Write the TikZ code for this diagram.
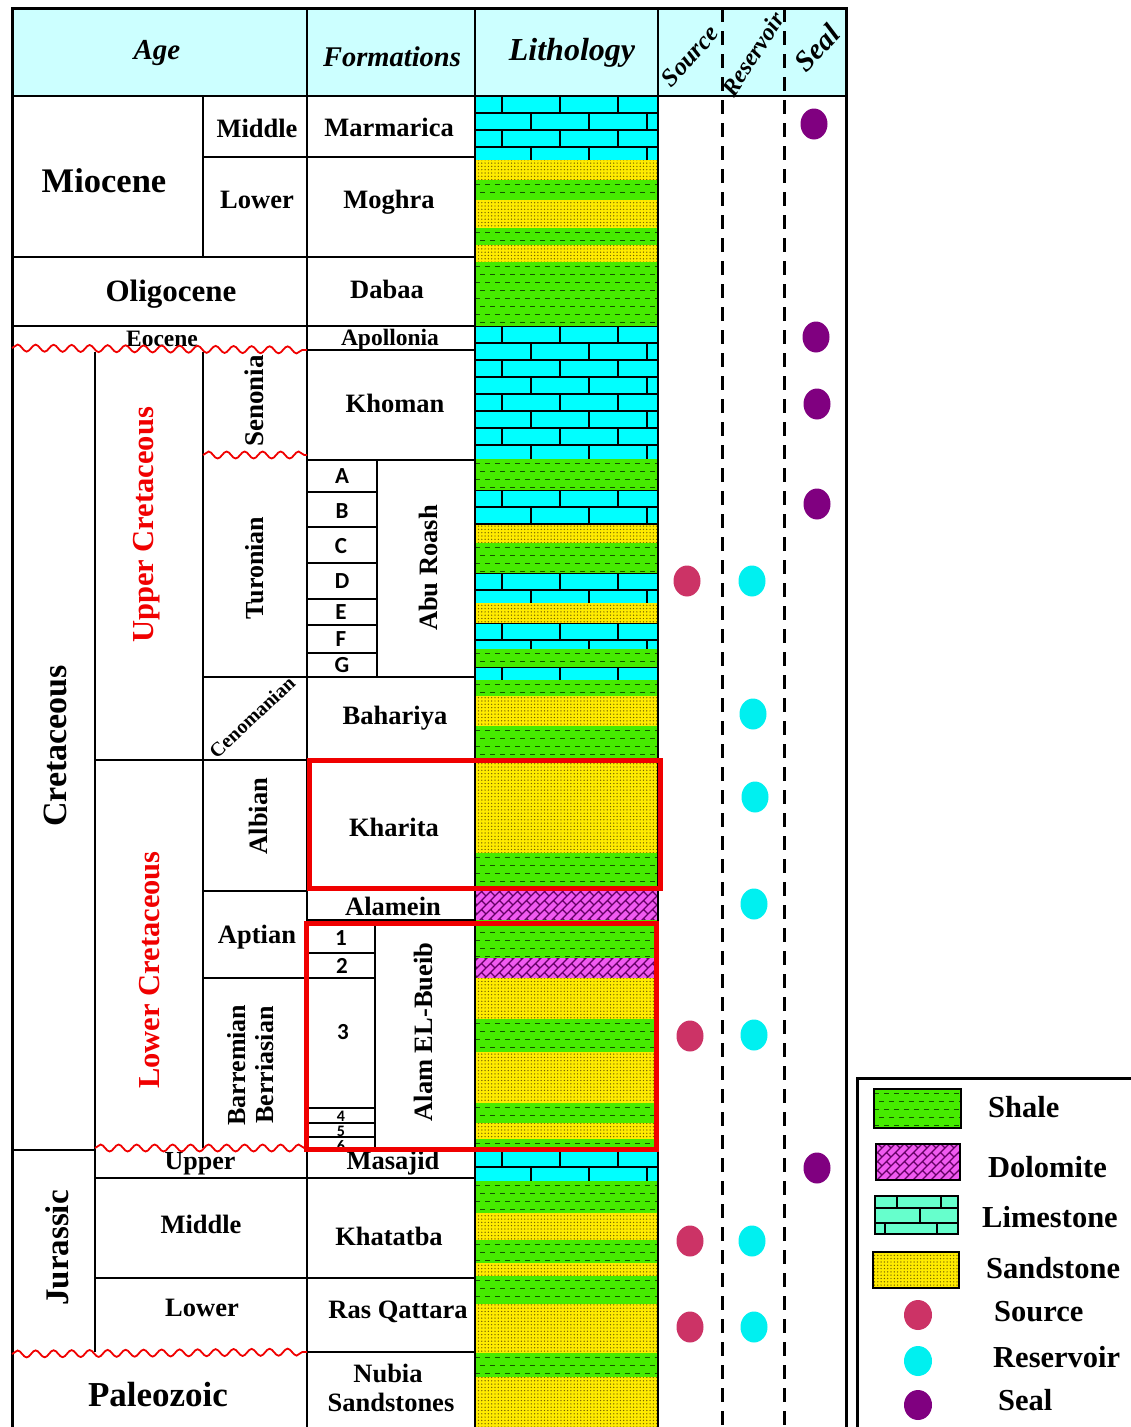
\documentclass[tikz,border=0pt]{standalone}
\usepackage{fontspec}
\setmainfont{Liberation Serif}
\newfontfamily\carl{Carlito}
\usetikzlibrary{patterns,shapes.geometric,decorations.pathmorphing}

\definecolor{hdr}{RGB}{204,255,255}
\definecolor{cLime}{RGB}{0,255,255}
\definecolor{cLimeLeg}{RGB}{102,255,204}
\definecolor{cShale}{RGB}{70,235,0}
\definecolor{cShaleDash}{RGB}{20,85,0}
\definecolor{cSand}{RGB}{255,235,0}
\definecolor{cSandDot}{RGB}{120,100,0}
\definecolor{cDolo}{RGB}{240,90,240}
\definecolor{cDoloLine}{RGB}{100,0,100}
\definecolor{cSrc}{RGB}{204,51,102}
\definecolor{cRes}{RGB}{0,240,240}
\definecolor{cSeal}{RGB}{128,0,128}
\definecolor{cRed}{RGB}{240,0,0}

\pgfdeclarepatternformonly{dolobricks}{\pgfqpoint{-1pt}{-1pt}}{\pgfqpoint{19pt}{19pt}}{\pgfqpoint{18pt}{18pt}}{%
  \pgfsetlinewidth{1.3pt}%
  \pgfpathmoveto{\pgfqpoint{0pt}{0pt}}\pgfpathlineto{\pgfqpoint{18pt}{18pt}}%
  \pgfpathmoveto{\pgfqpoint{9pt}{0pt}}\pgfpathlineto{\pgfqpoint{18pt}{9pt}}%
  \pgfpathmoveto{\pgfqpoint{0pt}{9pt}}\pgfpathlineto{\pgfqpoint{9pt}{18pt}}%
  \pgfpathmoveto{\pgfqpoint{4.5pt}{4.5pt}}\pgfpathlineto{\pgfqpoint{9pt}{0pt}}%
  \pgfpathmoveto{\pgfqpoint{13.5pt}{13.5pt}}\pgfpathlineto{\pgfqpoint{18pt}{9pt}}%
  \pgfpathmoveto{\pgfqpoint{4.5pt}{13.5pt}}\pgfpathlineto{\pgfqpoint{9pt}{9pt}}%
  \pgfpathmoveto{\pgfqpoint{13.5pt}{4.5pt}}\pgfpathlineto{\pgfqpoint{18pt}{0pt}}%
  \pgfusepath{stroke}}
\pgfdeclarepatternformonly{sanddots}{\pgfqpoint{-1pt}{-1pt}}{\pgfqpoint{4.3pt}{4.3pt}}{\pgfqpoint{3.3pt}{3.3pt}}{%
  \pgfpathcircle{\pgfqpoint{0pt}{0pt}}{0.72pt}%
  \pgfusepath{fill}}

% lithology helpers: x1 y1 x2 y2
\newcommand{\Lime}[4]{%
  \fill[cLime] (#1,#2) rectangle (#3,#4);
  \begin{scope}
    \clip (#1,#2) rectangle (#3,#4);
    \pgfmathtruncatemacro{\nr}{ceil((#4-#2)/17)}
    \foreach \i in {0,...,\nr}{
      \pgfmathsetmacro{\yy}{#2+17*\i}
      \pgfmathsetmacro{\off}{27+29*mod(\i,2)}
      \draw[brick] (#1,\yy) -- (#3,\yy);
      \foreach \k in {0,1,2,3}{\draw[brick] ({#1+\off+58*\k},\yy) -- ++(0,17);}
    }
  \end{scope}}
\newcommand{\Shale}[4]{%
  \fill[cShale] (#1,#2) rectangle (#3,#4);
  \begin{scope}
    \clip (#1,#2) rectangle (#3,#4);
    \pgfmathtruncatemacro{\nr}{floor((#4-#2)/8)}
    \foreach \i in {0,...,\nr}{
      \pgfmathsetmacro{\yy}{#2+4.5+8*\i}
      \pgfmathsetmacro{\ph}{5*mod(\i,2)}
      \draw[shdash, dash phase=\ph pt] (#1,\yy) -- (#3,\yy);
    }
  \end{scope}}
\newcommand{\Sand}[4]{%
  \fill[cSand] (#1,#2) rectangle (#3,#4);
  \fill[pattern=sanddots, pattern color=cSandDot] (#1,#2) rectangle (#3,#4);}
\newcommand{\Dolo}[4]{%
  \fill[cDolo] (#1,#2) rectangle (#3,#4);
  \fill[pattern=dolobricks, pattern color=cDoloLine] (#1,#2) rectangle (#3,#4);}

\begin{document}
\begin{tikzpicture}[x=1pt,y=-1pt,
  gline/.style={line width=2pt},
  frameline/.style={line width=3pt},
  brick/.style={line width=1.2pt, black},
  shdash/.style={line width=1.8pt, cShaleDash, dash pattern=on 5pt off 5pt},
  fs/.style={font=\bfseries\fontsize{#1}{#1}\selectfont, inner sep=0pt},
  hd/.style={font=\bfseries\itshape\fontsize{#1}{#1}\selectfont, inner sep=0pt},
  cs/.style={font=\carl\bfseries\fontsize{#1}{#1}\selectfont, inner sep=0pt},
  redtxt/.style={text=cRed},
  wavy/.style={cRed, line width=1.8pt, decorate, decoration={snake, amplitude=3.5pt, segment length=18pt}},
  redbox/.style={cRed, line width=5pt},
  sepdash/.style={line width=3pt, dash pattern=on 14pt off 9pt},
  dotn/.style={ellipse, minimum width=27pt, minimum height=31pt, inner sep=0pt, draw=none},
  src/.style={dotn, fill=cSrc},
  res/.style={dotn, fill=cRes},
  sealdot/.style={dotn, fill=cSeal},
  legbox/.style={line width=2.5pt}
]
\useasboundingbox (0,0) rectangle (1131,1427);
\fill[white] (0,0) rectangle (1131,1427);

% header
\fill[hdr] (12,8) rectangle (846,96);

% lithology column
\def\xa{475}\def\xb{658}
\Lime{\xa}{96}{\xb}{160}
\Sand{\xa}{160}{\xb}{180}
\Shale{\xa}{180}{\xb}{200}
\Sand{\xa}{200}{\xb}{228}
\Shale{\xa}{228}{\xb}{245}
\Sand{\xa}{245}{\xb}{262}
\Shale{\xa}{262}{\xb}{326}
\Lime{\xa}{326}{\xb}{459}
\Shale{\xa}{459}{\xb}{490}
\Lime{\xa}{490}{\xb}{525}
\Sand{\xa}{525}{\xb}{543}
\Shale{\xa}{543}{\xb}{573}
\Lime{\xa}{573}{\xb}{603}
\Sand{\xa}{603}{\xb}{623}
\Lime{\xa}{623}{\xb}{649}
\Shale{\xa}{649}{\xb}{667}
\Lime{\xa}{667}{\xb}{680}
\Shale{\xa}{680}{\xb}{696}
\Sand{\xa}{696}{\xb}{726}
\Shale{\xa}{726}{\xb}{760}
\Sand{\xa}{760}{\xb}{853}
\Shale{\xa}{853}{\xb}{887}
\Dolo{\xa}{887}{\xb}{920}
\Shale{\xa}{920}{\xb}{958}
\Dolo{\xa}{958}{\xb}{978}
\Sand{\xa}{978}{\xb}{1019}
\Shale{\xa}{1019}{\xb}{1052}
\Sand{\xa}{1052}{\xb}{1103}
\Shale{\xa}{1103}{\xb}{1123}
\Sand{\xa}{1123}{\xb}{1139}
\Shale{\xa}{1139}{\xb}{1150}
\Lime{\xa}{1150}{\xb}{1181}
\Shale{\xa}{1181}{\xb}{1213}
\Sand{\xa}{1213}{\xb}{1240}
\Shale{\xa}{1240}{\xb}{1263}
\Sand{\xa}{1263}{\xb}{1276}
\Shale{\xa}{1276}{\xb}{1304}
\Sand{\xa}{1304}{\xb}{1353}
\Shale{\xa}{1353}{\xb}{1377}
\Sand{\xa}{1377}{\xb}{1427}

% grid
\draw[gline] (12,96) -- (846,96);
\draw[gline] (307,8) -- (307,1427);
\draw[gline] (475,8) -- (475,1427);
\draw[gline] (658,8) -- (658,1427);
\draw[gline] (203,96) -- (203,257);
\draw[gline] (203,157) -- (475,157);
\draw[gline] (12,257) -- (475,257);
\draw[gline] (12,326) -- (475,326);
\draw[gline] (307,350) -- (475,350);
\draw[gline] (95,352) -- (95,1352);
\draw[gline] (203,352) -- (203,1148);
\draw[gline] (307,460) -- (475,460);
\draw[gline] (377,460) -- (377,677);
\foreach \y in {492,527,563,599,625,653} \draw[gline] (307,\y) -- (377,\y);
\draw[gline] (203,677) -- (475,677);
\draw[gline] (95,760) -- (475,760);
\draw[gline] (203,891) -- (307,891);
\draw[gline] (307,888) -- (475,888);
\draw[gline] (307,920) -- (475,920);
\draw[gline] (203,978) -- (375,978);
\draw[gline] (375,922) -- (375,1148);
\foreach \y in {953,1108,1123,1137} \draw[gline] (307,\y) -- (375,\y);
\draw[gline] (12,1150) -- (95,1150);
\draw[gline] (95,1178) -- (475,1178);
\draw[gline] (95,1278) -- (475,1278);
\draw[gline] (307,1352) -- (475,1352);
\draw[frameline] (12,1427) -- (12,8) -- (846,8) -- (846,1427);

% separators in source/reservoir/seal
\draw[sepdash] (722,8) -- (722,1427);
\draw[sepdash] (784,8) -- (784,1427);

% header text
\node[hd=29] (hAge) at (157,53) {Age};
\node[hd=28.5] (hForm) at (392,57) {Formations};
\node[hd=32] (hLith) at (572,53) {Lithology};
\node[hd=25, rotate=48] (hSrc) at (690,56) {Source};
\node[hd=24, rotate=57] (hRes) at (753,54) {Reservoir};
\node[hd=29, rotate=47] (hSeal) at (817,48) {Seal};

% age / formation text
\node[fs=34.5] (tMio) at (104,181) {Miocene};
\node[fs=26.5] (tMidM) at (257,128) {Middle};
\node[fs=26.5] (tLowM) at (257,200) {Lower};
\node[fs=26.5] (tMarm) at (389,127) {Marmarica};
\node[fs=26.5] (tMogh) at (389,202) {Moghra};
\node[fs=31] (tOlig) at (171,294) {Oligocene};
\node[fs=26.5] (tDab) at (387,289) {Dabaa};
\node[fs=23.5] (tEoc) at (162,339) {Eocene};
\node[fs=23.5] (tApol) at (390,340) {Apollonia};
\node[fs=27, rotate=90] (tSen) at (254,401) {Senonia};
\node[fs=26.5] (tKhom) at (395,403) {Khoman};
\node[fs=30.5, rotate=90, redtxt] (tUC) at (147,525) {Upper Cretaceous};
\node[fs=26, rotate=90] (tTur) at (255,568) {Turonian};
\node[cs=23] (lA) at (342,476) {A};
\node[cs=23] (lB) at (342,511) {B};
\node[cs=23] (lC) at (341,546) {C};
\node[cs=23] (lD) at (342,581) {D};
\node[cs=23] (lE) at (341,612) {E};
\node[cs=23] (lF) at (341,639) {F};
\node[cs=23] (lG) at (342,665) {G};
\node[fs=26.5, rotate=90] (tAbu) at (428,568) {Abu Roash};
\node[fs=34, rotate=90] (tCret) at (55,746) {Cretaceous};
\node[fs=20, rotate=43] (tCen) at (252,717) {Cenomanian};
\node[fs=26.5] (tBah) at (395,718) {Bahariya};
\node[fs=26.5, rotate=90] (tAlb) at (258,816) {Albian};
\node[fs=26.5] (tKhar) at (394,827) {Kharita};
\node[fs=30.5, rotate=90, redtxt] (tLC) at (150,970) {Lower Cretaceous};
\node[fs=26.5] (tAlam) at (393,906) {Alamein};
\node[fs=26.5] (tApt) at (257,937) {Aptian};
\node[cs=23] (n1) at (341,938) {1};
\node[cs=23] (n2) at (342,966) {2};
\node[fs=26, rotate=90, align=center] (tBarr) at (251,1065) {Barremian\\[2pt]Berriasian};
\node[cs=23] (n3) at (343,1032) {3};
\node[fs=26.5, rotate=90] (tAEB) at (423,1032) {Alam EL-Bueib};
\node[cs=16] (n4) at (341,1116) {4};
\node[cs=16] (n5) at (341,1131) {5};
\node[cs=16] (n6) at (341,1146) {6};
\node[fs=26] (tUpJ) at (200,1164) {Upper};
\node[fs=26.5] (tMas) at (393,1163) {Masajid};
\node[fs=33, rotate=90] (tJur) at (57,1248) {Jurassic};
\node[fs=26.5] (tMidJ) at (201,1224) {Middle};
\node[fs=26.5] (tKhat) at (389,1236) {Khatatba};
\node[fs=26.5] (tLowJ) at (202,1308) {Lower};
\node[fs=26.5] (tRas) at (398,1312) {Ras Qattara};
\node[fs=35] (tPal) at (158,1395) {Paleozoic};
\node[fs=26.5] (tNub) at (388,1373) {Nubia};
\node[fs=26.5] (tNubS) at (391,1402) {Sandstones};

% unconformities
\draw[wavy] (12,348) -- (307,350);
\draw[wavy] (203,455) -- (307,455);
\draw[wavy] (95,1148) -- (307,1148);
\draw[wavy] (12,1354) -- (307,1352);

% red boxes
\draw[redbox] (309,760) rectangle (660,888);
\draw[redbox] (306,923) rectangle (656,1149);

% petroleum system elements
\node[sealdot] (se1) at (814,124) {};
\node[sealdot] (se2) at (816,337) {};
\node[sealdot] (se3) at (817,404) {};
\node[sealdot] (se4) at (817,504) {};
\node[sealdot] (se5) at (817,1168) {};
\node[src] (so1) at (687,581) {};
\node[src] (so2) at (690,1036) {};
\node[src] (so3) at (690,1241) {};
\node[src] (so4) at (690,1327) {};
\node[res] (re1) at (752,581) {};
\node[res] (re2) at (753,714) {};
\node[res] (re3) at (755,797) {};
\node[res] (re4) at (754,904) {};
\node[res] (re5) at (754,1035) {};
\node[res] (re6) at (752,1241) {};
\node[res] (re7) at (754,1327) {};

% legend
\fill[white] (857,1078) rectangle (1131,1427);
\draw[frameline] (857,1427) -- (857,1078) -- (1131,1078);
\Shale{874}{1089}{961}{1128}
\draw[legbox] (874,1089) rectangle (961,1128);
\Dolo{876}{1144}{960}{1180}
\draw[legbox] (876,1144) rectangle (960,1180);
\fill[cLimeLeg] (875,1196) rectangle (958,1234);
\draw[brick] (875,1208) -- (958,1208) (875,1223) -- (958,1223)
  (897,1196) -- (897,1208) (941,1196) -- (941,1208)
  (920,1208) -- (920,1223)
  (885,1223) -- (885,1234) (937,1223) -- (937,1234);
\draw[legbox] (875,1196) rectangle (958,1234);
\Sand{873}{1252}{959}{1288}
\draw[legbox] (873,1252) rectangle (959,1288);
\node[src, minimum width=28pt, minimum height=30pt] (lgSrc) at (918,1315) {};
\node[res, minimum width=28pt, minimum height=30pt] (lgRes) at (918,1361) {};
\node[sealdot, minimum width=28pt, minimum height=30pt] (lgSeal) at (918,1405) {};
\node[fs=30.5, anchor=west] (lgT1) at (988,1107) {Shale};
\node[fs=30.5, anchor=west] (lgT2) at (988,1167) {Dolomite};
\node[fs=30.5, anchor=west] (lgT3) at (982,1217) {Limestone};
\node[fs=30.5, anchor=west] (lgT4) at (986,1268) {Sandstone};
\node[fs=30.5, anchor=west] (lgT5) at (994,1312) {Source};
\node[fs=30.5, anchor=west] (lgT6) at (993,1357) {Reservoir};
\node[fs=30.5, anchor=west] (lgT7) at (998,1400) {Seal};
\end{tikzpicture}
\end{document}
